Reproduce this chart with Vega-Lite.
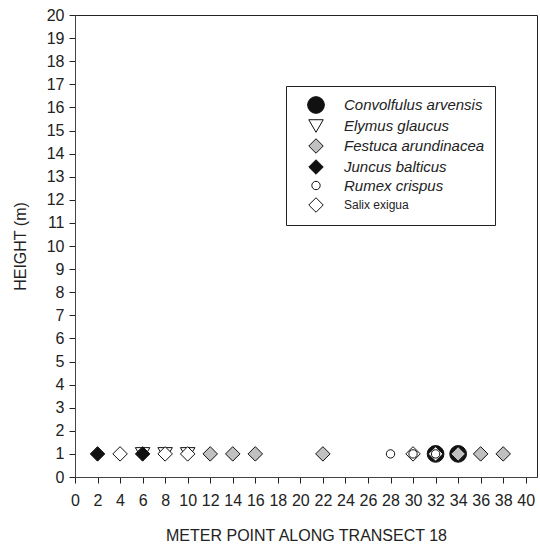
{
  "$schema": "https://vega.github.io/schema/vega-lite/v6.json",
  "autosize": {"type": "none"},
  "padding": {"left": 75, "top": 15, "right": 3, "bottom": 69},
  "width": 462,
  "height": 462,
  "background": "white",
  "config": {
    "view": {"stroke": "#222", "strokeWidth": 1},
    "font": "Liberation Sans",
    "axis": {
      "grid": false,
      "labelFont": "Liberation Sans",
      "labelFontSize": 16,
      "labelColor": "#222",
      "titleFont": "Liberation Sans",
      "titleFontSize": 16,
      "titleFontWeight": "normal",
      "titleColor": "#222",
      "domainColor": "#444",
      "tickColor": "#222",
      "tickSize": 6
    },
    "legend": {
      "orient": "none",
      "legendX": 211,
      "legendY": 71,
      "padding": 10,
      "strokeColor": "#222",
      "fillColor": "white",
      "symbolOffset": 11,
      "labelOffset": 19,
      "rowPadding": 1,
      "labelFont": "Liberation Sans",
      "labelFontSize": 15,
      "labelColor": "#222",
      "symbolStrokeColor": "#111",
      "symbolStrokeWidth": 1,
      "symbolOpacity": 1
    }
  },
  "data": {
    "values": [
      {"species": "Convolfulus arvensis", "meter": 32, "height": 1},
      {"species": "Convolfulus arvensis", "meter": 34, "height": 1},
      {"species": "Elymus glaucus", "meter": 6, "height": 1},
      {"species": "Elymus glaucus", "meter": 8, "height": 1},
      {"species": "Elymus glaucus", "meter": 10, "height": 1},
      {"species": "Festuca arundinacea", "meter": 12, "height": 1},
      {"species": "Festuca arundinacea", "meter": 14, "height": 1},
      {"species": "Festuca arundinacea", "meter": 16, "height": 1},
      {"species": "Festuca arundinacea", "meter": 22, "height": 1},
      {"species": "Festuca arundinacea", "meter": 34, "height": 1},
      {"species": "Festuca arundinacea", "meter": 36, "height": 1},
      {"species": "Festuca arundinacea", "meter": 38, "height": 1},
      {"species": "Juncus balticus", "meter": 2, "height": 1},
      {"species": "Juncus balticus", "meter": 6, "height": 1},
      {"species": "Salix exigua", "meter": 4, "height": 1},
      {"species": "Salix exigua", "meter": 8, "height": 1},
      {"species": "Salix exigua", "meter": 10, "height": 1},
      {"species": "Salix exigua", "meter": 30, "height": 1},
      {"species": "Salix exigua", "meter": 32, "height": 1},
      {"species": "Rumex crispus", "meter": 28, "height": 1},
      {"species": "Rumex crispus", "meter": 30, "height": 1},
      {"species": "Rumex crispus", "meter": 32, "height": 1}
    ]
  },
  "mark": {"type": "point", "filled": false, "strokeWidth": 1, "opacity": 1, "fillOpacity": 1},
  "encoding": {
    "x": {
      "field": "meter", "type": "quantitative",
      "scale": {"domain": [0, 41], "nice": false, "zero": false},
      "axis": {"values": [0,2,4,6,8,10,12,14,16,18,20,22,24,26,28,30,32,34,36,38,40], "labelPadding": 9, "labelFlush": false, "labelOverlap": false, "title": "METER POINT ALONG TRANSECT 18", "titlePadding": 19}
    },
    "y": {
      "field": "height", "type": "quantitative",
      "scale": {"domain": [0, 20], "nice": false},
      "axis": {"values": [0,1,2,3,4,5,6,7,8,9,10,11,12,13,14,15,16,17,18,19,20], "labelPadding": 5, "labelFlush": false, "labelOverlap": false, "title": "HEIGHT (m)", "titlePadding": 18}
    },
    "shape": {
      "field": "species", "type": "nominal",
      "scale": {
        "domain": ["Convolfulus arvensis", "Elymus glaucus", "Festuca arundinacea", "Juncus balticus", "Rumex crispus", "Salix exigua"],
        "range": ["circle", "triangle-down", "diamond", "diamond", "circle", "diamond"]
      },
      "legend": {
        "title": null,
        "labelFontStyle": {"expr": "datum.label === 'Salix exigua' ? 'normal' : 'italic'"},
        "labelFontSize": {"expr": "datum.label === 'Salix exigua' ? 12 : 15"}
      }
    },
    "fill": {
      "field": "species", "type": "nominal",
      "scale": {
        "domain": ["Convolfulus arvensis", "Elymus glaucus", "Festuca arundinacea", "Juncus balticus", "Rumex crispus", "Salix exigua"],
        "range": ["#111111", "#ffffff", "#c0c0c0", "#111111", "#ffffff", "#ffffff"]
      },
      "legend": {
        "title": null,
        "labelFontStyle": {"expr": "datum.label === 'Salix exigua' ? 'normal' : 'italic'"},
        "labelFontSize": {"expr": "datum.label === 'Salix exigua' ? 12 : 15"}
      }
    },
    "stroke": {
      "field": "species", "type": "nominal",
      "scale": {
        "domain": ["Convolfulus arvensis", "Elymus glaucus", "Festuca arundinacea", "Juncus balticus", "Rumex crispus", "Salix exigua"],
        "range": ["#111111", "#111111", "#111111", "#111111", "#111111", "#111111"]
      },
      "legend": {
        "title": null,
        "labelFontStyle": {"expr": "datum.label === 'Salix exigua' ? 'normal' : 'italic'"},
        "labelFontSize": {"expr": "datum.label === 'Salix exigua' ? 12 : 15"}
      }
    },
    "size": {
      "field": "species", "type": "nominal",
      "scale": {
        "type": "ordinal",
        "domain": ["Convolfulus arvensis", "Elymus glaucus", "Festuca arundinacea", "Juncus balticus", "Rumex crispus", "Salix exigua"],
        "range": [280, 210, 210, 210, 70, 210]
      },
      "legend": {
        "title": null,
        "labelFontStyle": {"expr": "datum.label === 'Salix exigua' ? 'normal' : 'italic'"},
        "labelFontSize": {"expr": "datum.label === 'Salix exigua' ? 12 : 15"}
      }
    }
  }
}
